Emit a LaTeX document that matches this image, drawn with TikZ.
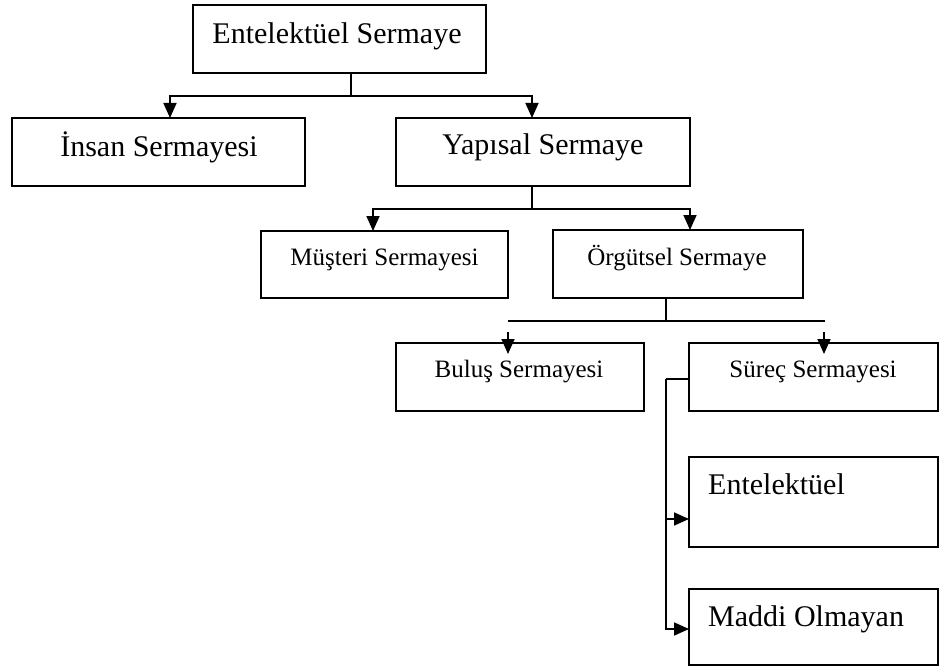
\documentclass[tikz,border=0pt]{standalone}
\usepackage{fontspec}
\setmainfont{Liberation Serif}
\usetikzlibrary{arrows.meta}
\tikzset{
  box/.style={draw, line width=1.8pt, rectangle, inner sep=0pt, outer sep=0pt},
  big/.style={font=\fontsize{30}{36}\selectfont, anchor=base, inner sep=0pt},
  small/.style={font=\fontsize{25}{30}\selectfont, anchor=base, inner sep=0pt},
  conn/.style={line width=1.7pt},
  arr/.style={line width=1.7pt, -{Triangle[length=15pt,width=13pt]}},
}
\begin{document}
\begin{tikzpicture}[x=1pt,y=-1pt]
\useasboundingbox (0,0) rectangle (943,666);
% boxes
\node[box, minimum width=293pt, minimum height=68pt] (top) at (339.5,39) {};
\node[box, minimum width=293pt, minimum height=68pt] (insan) at (158.5,152) {};
\node[box, minimum width=294pt, minimum height=68pt] (yapisal) at (543,152) {};
\node[box, minimum width=247pt, minimum height=67pt] (musteri) at (384.5,264.5) {};
\node[box, minimum width=250pt, minimum height=68pt] (orgutsel) at (678,264) {};
\node[box, minimum width=248pt, minimum height=68pt] (bulus) at (520,377) {};
\node[box, minimum width=249pt, minimum height=68pt] (surec) at (813.5,377) {};
\node[box, minimum width=249pt, minimum height=90pt] (entel) at (813.5,502) {};
\node[box, minimum width=249pt, minimum height=76pt] (maddi) at (813.5,627) {};
% texts
\node[big] (ttop) at (337,44) {Entelektüel Sermaye};
\node[big] (tinsan) at (159,157) {İnsan Sermayesi};
\node[big] (tyapisal) at (543,155) {Yapısal Sermaye};
\node[small] (tmusteri) at (384.5,265) {Müşteri Sermayesi};
\node[small] (torgutsel) at (677,265) {Örgütsel Sermaye};
\node[small] (tbulus) at (519,377) {Buluş Sermayesi};
\node[small] (tsurec) at (813,377) {Süreç Sermayesi};
\node[big, anchor=base west] (tentel) at (708,494) {Entelektüel};
\node[big, anchor=base west] (tmaddi) at (708,626) {Maddi Olmayan};
% level 1
\coordinate (j1) at (351,96);
\draw[conn] (top.south -| j1) -- (j1);
\draw[arr] (j1) -| ([xshift=11.5pt]insan.north);
\draw[arr] (j1) -| ([xshift=-11pt]yapisal.north);
% level 2
\coordinate (j2) at (532,209);
\draw[conn] (yapisal.south -| j2) -- (j2);
\draw[arr] (j2) -| ([xshift=-11.5pt]musteri.north);
\draw[arr] (j2) -| ([xshift=12pt]orgutsel.north);
% level 3
\coordinate (j3) at (666,321);
\coordinate (h3l) at (508,321);
\coordinate (h3r) at (825,321);
\draw[conn] (orgutsel.south -| j3) -- (j3);
\draw[conn] (h3l) -- (h3r);
\draw[arr] ([xshift=-12pt,yshift=11pt]bulus.north) -- ([xshift=-12pt,yshift=-11pt]bulus.north);
\draw[arr] ([xshift=10.5pt,yshift=11pt]surec.north) -- ([xshift=10.5pt,yshift=-11pt]surec.north);
% level 4
\coordinate (trunk) at (666,379);
\coordinate (ea) at ([yshift=-17pt]entel.west);
\draw[conn] ([yshift=-2pt]surec.west) -- (trunk);
\draw[arr] (trunk) |- ([yshift=-2pt]maddi.west);
\draw[arr] (trunk |- ea) -- (ea);
\end{tikzpicture}
\end{document}
